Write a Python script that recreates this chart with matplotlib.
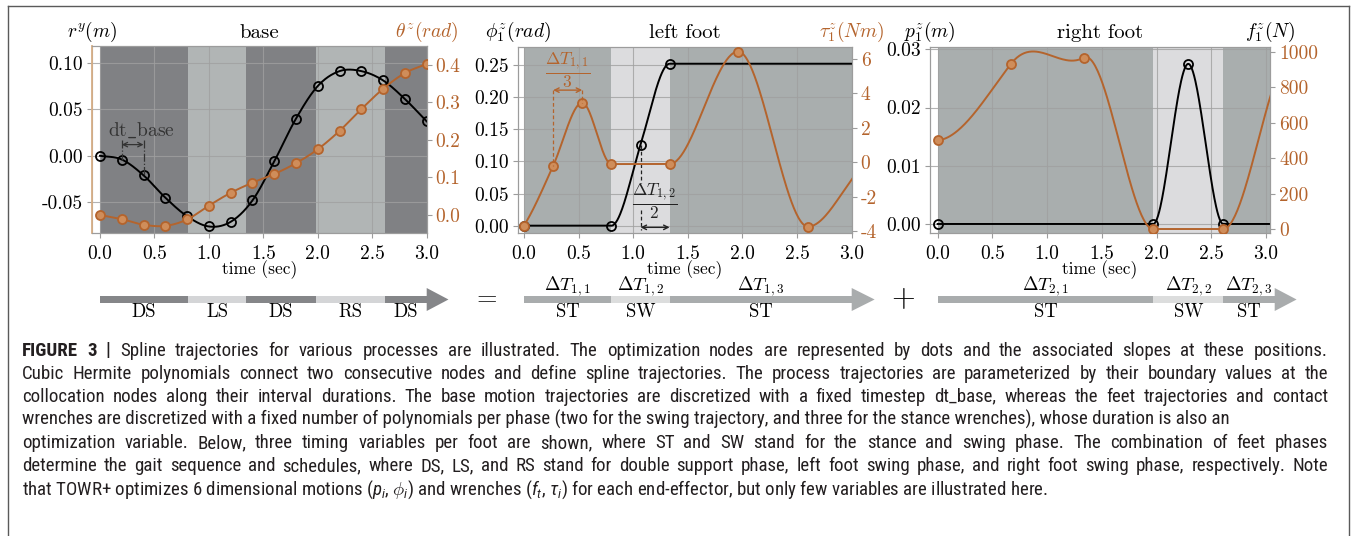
import numpy as np
import matplotlib
matplotlib.use("Agg")
import matplotlib.pyplot as plt
from matplotlib import font_manager
from matplotlib.lines import Line2D
from matplotlib.patches import Polygon

# ------------------------------------------------------------------ data
time_ticks = [0.0, 0.5, 1.0, 1.5, 2.0, 2.5, 3.0]
time_tick_labels = ["0.0", "0.5", "1.0", "1.5", "2.0", "2.5", "3.0"]

# base panel (nodes every dt_base = 0.2 s)
base_t = [0.0, 0.2, 0.4, 0.6, 0.8, 1.0, 1.2, 1.4, 1.6, 1.8, 2.0, 2.2, 2.4, 2.6, 2.8, 3.0]
base_ry = [0.0, -0.004, -0.021, -0.045, -0.065, -0.076, -0.071, -0.048, -0.006,
           0.040, 0.075, 0.091, 0.091, 0.081, 0.061, 0.037]
base_theta = [0.0, -0.011, -0.026, -0.029, -0.012, 0.025, 0.059, 0.086, 0.109,
              0.138, 0.175, 0.224, 0.282, 0.336, 0.378, 0.402]
base_phase_bounds = [0.0, 0.81, 1.34, 1.98, 2.62, 3.0]
base_phase_names = ["DS", "LS", "DS", "RS", "DS"]
ry_ticks = [-0.05, 0.0, 0.05, 0.10]
ry_tick_labels = ["-0.05", "0.00", "0.05", "0.10"]
theta_ticks = [0.0, 0.1, 0.2, 0.3, 0.4]
theta_tick_labels = ["0.0", "0.1", "0.2", "0.3", "0.4"]

# left foot
lf_phi_t = [0.0, 0.8, 1.067, 1.333, 3.3]
lf_phi = [0.0, 0.0, 0.126, 0.252, 0.252]
lf_phi_slope = [0.0, 0.0, 0.55, 0.0, 0.0]
lf_tau_t = [0.0, 0.267, 0.533, 0.8, 1.333, 1.96, 2.6, 3.23]
lf_tau = [-3.67, -0.2, 3.46, -0.1, -0.1, 6.43, -3.73, 0.2]
lf_tau_slope = [10.0, 14.0, 0.0, 0.0, 0.0, 0.0, 0.0, 0.0]
lf_phase_bounds = [0.0, 0.80, 1.333, 3.0]
lf_phase_names = ["ST", "SW", "ST"]
lf_phase_dt = [r"$\Delta T_{1,1}$", r"$\Delta T_{1,2}$", r"$\Delta T_{1,3}$"]
phi_ticks = [0.0, 0.05, 0.10, 0.15, 0.20, 0.25]
phi_tick_labels = ["0.00", "0.05", "0.10", "0.15", "0.20", "0.25"]
tau_ticks = [-4, -2, 0, 2, 4, 6]
tau_tick_labels = ["-4", "-2", "0", "2", "4", "6"]

# right foot
rf_p_t = [0.0, 1.97, 2.29, 2.61, 3.3]
rf_p = [0.0, 0.0, 0.0275, 0.0, 0.0]
rf_p_slope = [0.0, 0.0, 0.0, 0.0, 0.0]
rf_f_t = [0.0, 0.667, 1.333, 1.97, 2.61, 3.25]
rf_f = [500, 929, 966, 0, 0, 1000]
rf_f_slope = [50, 800, 340, 0, 0, 0]
rf_phase_bounds = [0.0, 1.97, 2.61, 3.08]
rf_phase_names = ["ST", "SW", "ST"]
rf_phase_dt = [r"$\Delta T_{2,1}$", r"$\Delta T_{2,2}$", r"$\Delta T_{2,3}$"]
p_ticks = [0.0, 0.01, 0.02, 0.03]
p_tick_labels = ["0.00", "0.01", "0.02", "0.03"]
f_ticks = [0, 200, 400, 600, 800, 1000]
f_tick_labels = ["0", "200", "400", "600", "800", "1000"]

caption_lines = [
    "FIGURE 3 | Spline trajectories for various processes are illustrated. The optimization nodes are represented by dots and the associated slopes at these positions.",
    "Cubic Hermite polynomials connect two consecutive nodes and define spline trajectories. The process trajectories are parameterized by their boundary values at the",
    "collocation nodes along their interval durations. The base motion trajectories are discretized with a fixed timestep dt_base, whereas the feet trajectories and contact",
    "wrenches are discretized with a fixed number of polynomials per phase (two for the swing trajectory, and three for the stance wrenches), whose duration is also an",
    "optimization variable. Below, three timing variables per foot are shown, where ST and SW stand for the stance and swing phase. The combination of feet phases",
    "determine the gait sequence and schedules, where DS, LS, and RS stand for double support phase, left foot swing phase, and right foot swing phase, respectively. Note",
    r"that TOWR+ optimizes 6 dimensional motions ($p_i$, $\phi_i$) and wrenches ($f_t$, $\tau_i$) for each end-effector, but only few variables are illustrated here.",
]
caption_justified = [True, True, True, False, True, True, False]

# ------------------------------------------------------------------ style
W, H = 1354, 536
plt.rcParams["mathtext.fontset"] = "cm"
plt.rcParams["font.family"] = ["cmr10", "DejaVu Serif"]
plt.rcParams["axes.unicode_minus"] = False
plt.rcParams["axes.formatter.use_mathtext"] = True

ORANGE = "#b4642d"
ORANGE_FILL = "#cf8d5a"
SPINE = "#9c9c9c"
GRID = "#a0a0a0"
shade_base = {"DS": "#808184", "LS": "#b1b5b5", "RS": "#b1b5b5"}
shade_foot = {"ST": "#a9aeae", "SW": "#dcdcde"}
bar_base = {"DS": "#858689", "LS": "#d4d5d7", "RS": "#d4d5d7"}
bar_foot = {"ST": "#a9acad", "SW": "#dcdddd"}

fig = plt.figure(figsize=(W / 100, H / 100), dpi=100)


def px_rect(l, t, r, b):
    return [l / W, 1 - b / H, (r - l) / W, (b - t) / H]


def hermite(xk, yk, mk, n=60):
    xs, ys = [], []
    t = np.linspace(0, 1, n)
    h00 = 2 * t**3 - 3 * t**2 + 1
    h10 = t**3 - 2 * t**2 + t
    h01 = -2 * t**3 + 3 * t**2
    h11 = t**3 - t**2
    for i in range(len(xk) - 1):
        h = xk[i + 1] - xk[i]
        xs.append(xk[i] + t * h)
        ys.append(h00 * yk[i] + h10 * h * mk[i] + h01 * yk[i + 1] + h11 * h * mk[i + 1])
    return np.concatenate(xs), np.concatenate(ys)


def make_panel(rect, xlim, ylim_l, ylim_r, bounds, names, shade,
               lticks, llabels, rticks, rlabels, title, llab, rlab, rlab_color):
    ax = fig.add_axes(px_rect(*rect))
    ax.set_xlim(*xlim)
    ax.set_ylim(*ylim_l)
    for i, nm in enumerate(names):
        ax.axvspan(bounds[i], bounds[i + 1], color=shade[nm], lw=0, zorder=0)
    ax.set_xticks(time_ticks, time_tick_labels)
    ax.set_yticks(lticks, llabels)
    ax.grid(True, color=GRID, lw=0.8, alpha=0.8)
    ax.tick_params(axis="both", length=3.5, width=0.8, color=SPINE, labelsize=14, pad=3)
    ax.tick_params(axis="x", pad=5)
    axr = ax.twinx()
    axr.set_ylim(*ylim_r)
    axr.set_yticks(rticks, rlabels)
    axr.tick_params(axis="y", length=3.5, width=0.8, color=SPINE, labelsize=14, pad=3,
                    labelcolor=ORANGE)
    for a in (ax, axr):
        for s in a.spines.values():
            s.set_color(SPINE)
            s.set_linewidth(0.8)
    ax.set_xlabel("time (sec)", fontsize=12.5)
    ax.xaxis.set_label_coords(0.5, -0.145)
    ax.text(0.5, 1.045, title, transform=ax.transAxes, ha="center", va="baseline", fontsize=15)
    ax.text(0.0, 1.05, llab, transform=ax.transAxes, ha="center", va="baseline", fontsize=14)
    ax.text(1.0, 1.05, rlab, transform=ax.transAxes, ha="center", va="baseline", fontsize=14,
            color=rlab_color)
    return ax, axr


def draw_series(ax, xk, yk, mk, color, mfc):
    xc, yc = hermite(xk, yk, mk)
    ax.plot(xc, yc, color=color, lw=1.4, zorder=3)
    ax.plot(xk, yk, "o", ms=6.5, mfc=mfc, mec=color, mew=1.3, zorder=4)


def arrow_row(rect_lr, xlim, bounds, names, colors, top_labels, head_len):
    l, r = rect_lr
    ax = fig.add_axes(px_rect(l, 279.5, r, 319.5))
    ax.set_xlim(*xlim)
    ax.set_ylim(-1, 1)
    ax.axis("off")
    for i, nm in enumerate(names):
        ax.barh(0, bounds[i + 1] - bounds[i], left=bounds[i], height=0.375,
                color=colors[nm], lw=0, clip_on=False)
        cx = 0.5 * (bounds[i] + bounds[i + 1])
        ax.text(cx, -0.62, nm, ha="center", va="center", fontsize=13.5, clip_on=False)
        if top_labels is not None:
            ax.text(cx, 0.66, top_labels[i], ha="center", va="center", fontsize=13.5,
                    clip_on=False)
    end = bounds[-1]
    ax.add_patch(Polygon([[end, -0.575], [end, 0.575], [end + head_len, 0.0]],
                         closed=True, color=colors[names[-1]], lw=0, clip_on=False))
    return ax


# ------------------------------------------------------------------ panel 1: base
r1 = (91.7, 46, 426.7, 233)
ax1, ax1r = make_panel(r1, (-0.076, 3.0), (-0.083, 0.118), (-0.048, 0.45),
                       base_phase_bounds, base_phase_names, shade_base,
                       ry_ticks, ry_tick_labels, theta_ticks, theta_tick_labels,
                       "base", r"$r^y(m)$", r"$\theta^z(rad)$", ORANGE)
ax1r.spines["left"].set_color("#d6ae86")
ax1r.spines["left"].set_linewidth(1.3)
draw_series(ax1, base_t, base_ry, np.gradient(base_ry, base_t), "black", "none")
draw_series(ax1r, base_t, base_theta, np.gradient(base_theta, base_t), ORANGE, ORANGE_FILL)
# dt_base annotation
ann_c = "#333333"
ax1.annotate("", xy=(base_t[1], 0.012), xytext=(base_t[2], 0.012),
             arrowprops=dict(arrowstyle="<->", color=ann_c, lw=0.9, shrinkA=0, shrinkB=0,
                             mutation_scale=8), zorder=5)
for k in (1, 2):
    ax1.plot([base_t[k], base_t[k]], [0.017, base_ry[k]], ls="-.", color=ann_c, lw=0.9, zorder=5)
ax1.text(0.376, 0.027, r"$\mathrm{dt\_base}$", ha="center", va="center", fontsize=14,
         color=ann_c, zorder=5)

# ------------------------------------------------------------------ panel 2: left foot
r2 = (518.3, 46.7, 851.7, 233)
ax2, ax2r = make_panel(r2, (-0.052, 3.0), (-0.0114, 0.2785), (-4.1, 6.71),
                       lf_phase_bounds, lf_phase_names, shade_foot,
                       phi_ticks, phi_tick_labels, tau_ticks, tau_tick_labels,
                       "left foot", r"$\phi_1^z(rad)$", r"$\tau_1^z(Nm)$", ORANGE)
draw_series(ax2, lf_phi_t, lf_phi, lf_phi_slope, "black", "none")
draw_series(ax2r, lf_tau_t, lf_tau, lf_tau_slope, ORANGE, ORANGE_FILL)
# Delta T_{1,1}/3 annotation (torque coordinates)
xa, xb = lf_tau_t[1], lf_tau_t[2]
ax2r.annotate("", xy=(xa, 4.19), xytext=(xb, 4.19),
              arrowprops=dict(arrowstyle="<->", color=ORANGE, lw=1.0, shrinkA=0, shrinkB=0,
                              mutation_scale=8), zorder=5)
ax2r.plot([xa, xa], [4.19, lf_tau[1]], ls=(0, (3, 2)), color=ORANGE, lw=0.9, zorder=5)
ax2r.plot([xb, xb], [4.19, lf_tau[2]], ls=(0, (3, 2)), color=ORANGE, lw=0.9, zorder=5)
ax2r.text(0.5 * (xa + xb), 5.36, r"$\dfrac{\Delta T_{1,1}}{3}$", ha="center", va="center",
          fontsize=12.5, color=ORANGE, zorder=5)
# Delta T_{1,2}/2 annotation (phi coordinates)
xa, xb = lf_phi_t[2], lf_phi_t[3]
ax2.annotate("", xy=(xa, -0.0026), xytext=(xb, -0.0026),
             arrowprops=dict(arrowstyle="<->", color="#222222", lw=1.0, shrinkA=0, shrinkB=0,
                             mutation_scale=8), zorder=5)
ax2.plot([xa, xa], [lf_phi[2], 0.066], ls=(0, (3, 2)), color="#222222", lw=0.9, zorder=5)
ax2.plot([xa, xa], [0.024, -0.007], ls=(0, (3, 2)), color="#222222", lw=0.9, zorder=5)
ax2.text(1.2, 0.0373, r"$\dfrac{\Delta T_{1,2}}{2}$", ha="center", va="center",
         fontsize=12.5, color="#222222", zorder=5)

# ------------------------------------------------------------------ panel 3: right foot
r3 = (930, 46.7, 1270, 233)
ax3, ax3r = make_panel(r3, (-0.07, 3.037), (-0.00155, 0.03045), (-22.5, 1028),
                       rf_phase_bounds, rf_phase_names, shade_foot,
                       p_ticks, p_tick_labels, f_ticks, f_tick_labels,
                       "right foot", r"$p_1^z(m)$", r"$f_1^z(N)$", "black")
draw_series(ax3, rf_p_t, rf_p, rf_p_slope, "black", "none")
draw_series(ax3r, rf_f_t, rf_f, rf_f_slope, ORANGE, ORANGE_FILL)

# ------------------------------------------------------------------ timing arrows
arrow_row((r1[0], r1[2]), (-0.076, 3.0), base_phase_bounds, base_phase_names, bar_base, None, 0.2)
arrow_row((r2[0], r2[2]), (-0.052, 3.0), lf_phase_bounds, lf_phase_names, bar_foot, lf_phase_dt, 0.21)
arrow_row((r3[0], r3[2]), (-0.07, 3.037), rf_phase_bounds, rf_phase_names, bar_foot, rf_phase_dt, 0.2)
fig.text(485 / W, 1 - 297.7 / H, r"$=$", ha="center", va="center", fontsize=19)
fig.text(903 / W, 1 - 298 / H, r"$+$", ha="center", va="center", fontsize=22)

# ------------------------------------------------------------------ border
bc = "#5a5a5a"
fig.add_artist(Line2D([8 / W, 8 / W], [0, 1 - 6 / H], transform=fig.transFigure, color=bc, lw=1))
fig.add_artist(Line2D([8 / W, 1349 / W], [1 - 6 / H, 1 - 6 / H], transform=fig.transFigure, color=bc, lw=1))
fig.add_artist(Line2D([1349 / W, 1349 / W], [0, 1 - 6 / H], transform=fig.transFigure, color=bc, lw=1))

# ------------------------------------------------------------------ caption
available = {f.name for f in font_manager.fontManager.ttflist}
cap_family = "Liberation Sans"
for cand in ["Roboto Condensed", "Archivo Narrow", "PT Sans Narrow", "Liberation Sans Narrow",
             "Fira Sans Condensed", "IBM Plex Sans Condensed", "Encode Sans Condensed",
             "Pragati Narrow"]:
    if cand in available:
        cap_family = cand
        break
plt.rcParams["mathtext.rm"] = cap_family
plt.rcParams["mathtext.it"] = cap_family + ":italic"
plt.rcParams["mathtext.bf"] = cap_family + ":bold"
renderer = fig.canvas.get_renderer()
CAP_C = "#231f20"


def text_width(s, size, weight="normal"):
    t = fig.text(0.1, 0.1, s, fontsize=size, family=cap_family, weight=weight,
                 math_fontfamily="custom")
    w = t.get_window_extent(renderer).width
    t.remove()
    return w


x0, x1 = 22.0, 1328.0
cap_fs = 10 * (1045.0 - x0) / text_width(caption_lines[6], 10)
base_y, step = 355.5, 23.15
for li, line in enumerate(caption_lines):
    y = 1 - (base_y + step * li) / H
    words = line.split(" ")
    weights = ["normal"] * len(words)
    if li == 0:
        weights[0] = weights[1] = weights[2] = "bold"
    if caption_justified[li]:
        widths = [text_width(wd, cap_fs, wt) for wd, wt in zip(words, weights)]
        gap = (x1 - x0 - sum(widths)) / (len(words) - 1)
        x = x0
        for wd, wt, wdw in zip(words, weights, widths):
            fig.text(x / W, y, wd, fontsize=cap_fs, family=cap_family, weight=wt,
                     math_fontfamily="custom", color=CAP_C, va="baseline", ha="left")
            x += wdw + gap
    else:
        fig.text(x0 / W, y, line, fontsize=cap_fs, family=cap_family, math_fontfamily="custom",
                 color=CAP_C, va="baseline", ha="left")

fig.savefig("out.png", dpi=100)
